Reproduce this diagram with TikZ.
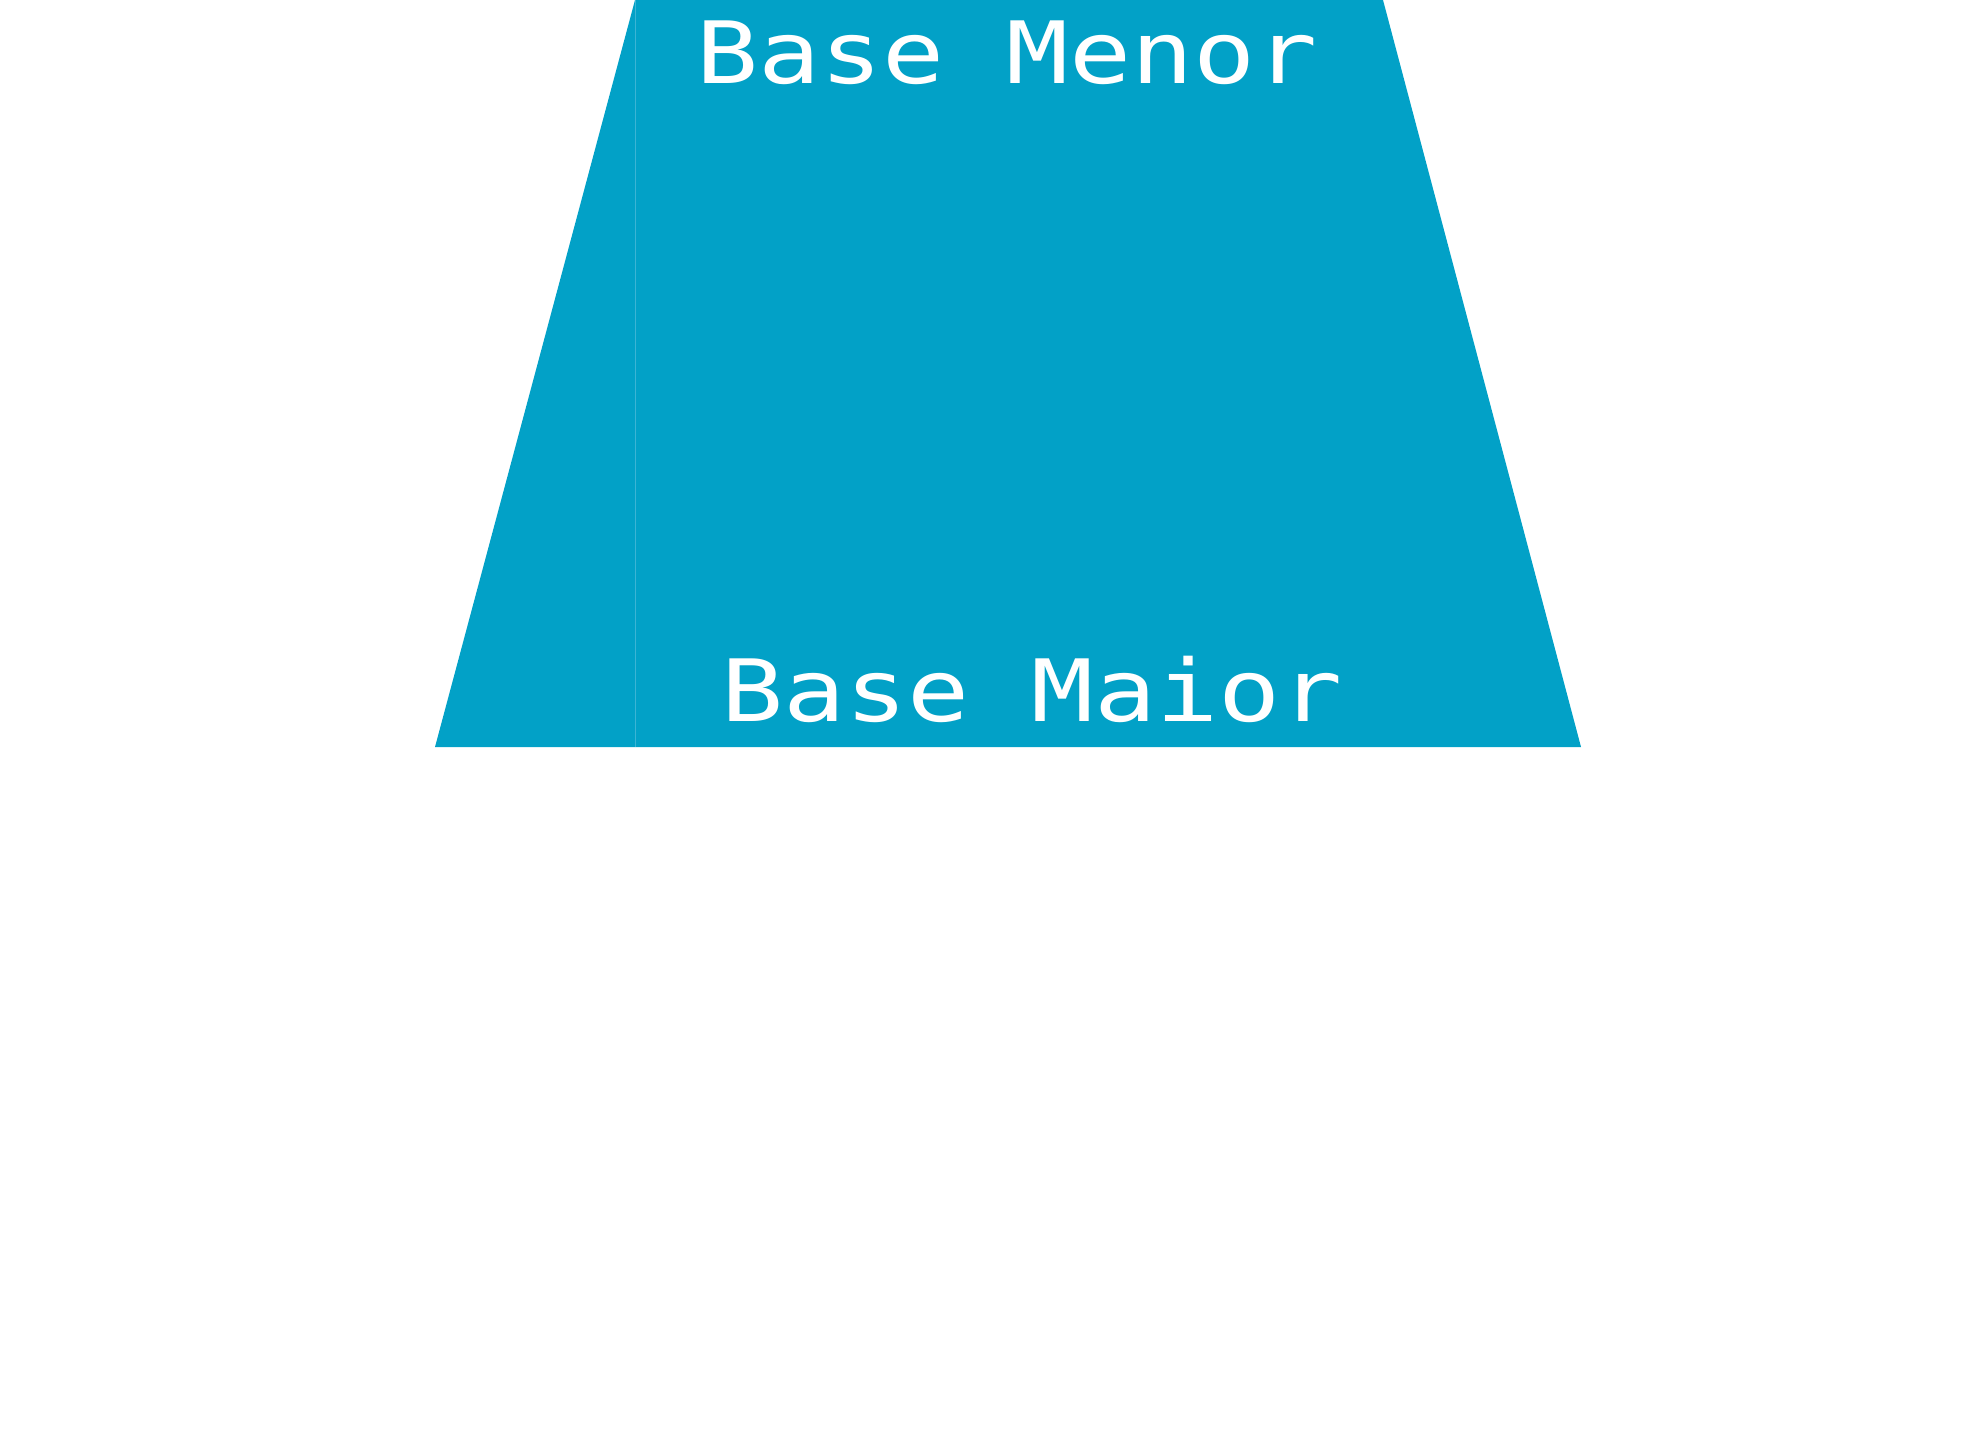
\documentclass[tikz,border=0pt]{standalone}
\usepackage{fontspec}
\newfontfamily\pixfont[FakeStretch=1.2]{DejaVu Sans Mono}
\definecolor{trapblue}{RGB}{2,161,199}
\definecolor{seamblue}{RGB}{60,180,212}
\begin{document}
\begin{tikzpicture}[x=0.5pt,y=-0.5pt,
  lbl/.style={text=white,font=\pixfont\fontsize{43}{43}\selectfont,inner sep=0pt,anchor=base}]
\useasboundingbox (0,0) rectangle (1969,1452);
\coordinate (tl) at (635,0);
\coordinate (tr) at (1383,0);
\coordinate (br) at (1581,747);
\coordinate (bl) at (435,747);
\coordinate (sb) at (635,747);
\fill[trapblue] (tl) -- (tr) -- (br) -- (bl) -- cycle;
\draw[seamblue,line width=0.5pt] (tl) -- (sb);
\node[lbl] (menor) at (1007,83) {Base Menor};
\node[lbl] (maior) at (1032,721) {Base Maior};
\end{tikzpicture}
\end{document}
